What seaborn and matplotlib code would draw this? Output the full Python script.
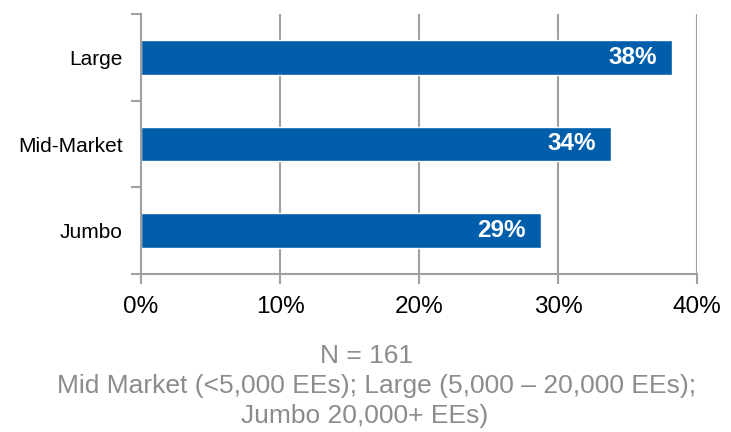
import pandas as pd
import numpy as np
import matplotlib.pyplot as plt
import seaborn as sns

sns.set_theme(style="white")
plt.rcParams['font.family'] = ['Liberation Sans', 'DejaVu Sans']

segments = ['Large', 'Mid-Market', 'Jumbo']
shares = [38, 34, 29]
bar_ends = [38.2, 33.8, 28.8]
footnote = ['N = 161',
            'Mid Market (<5,000 EEs); Large (5,000 \u2013 20,000 EEs);',
            'Jumbo 20,000+ EEs)']

df = pd.DataFrame({'segment': segments, 'share': bar_ends, 'label': shares})

fig = plt.figure(figsize=(7.31, 4.32), dpi=100)
ax = fig.add_axes([141 / 731, 1 - 274 / 432, 556 / 731, 260 / 432])

sns.barplot(data=df, y='segment', x='share', orient='h', color='#005EAB',
            saturation=1, width=0.4, ax=ax)

for i, (v, lab) in enumerate(zip(df['share'], df['label'])):
    ax.text(v - 1.1, i, f"{lab}%", ha='right', va='center', color='white',
            fontsize=17.5, fontweight='bold')

ax.set_xlim(0, 40)
ax.set_ylim(2.5, -0.5)
ax.set_xticks([0, 10, 20, 30, 40])
ax.set_xticklabels([f"{t}%" for t in [0, 10, 20, 30, 40]], fontsize=17.5, color='black')
ax.set_yticks(range(len(segments)))
ax.set_yticklabels(segments, fontsize=15, color='black')
ax.set_yticks([-0.5, 0.5, 1.5, 2.5], minor=True)
ax.tick_params(axis='y', which='major', length=0, pad=13)
ax.tick_params(axis='y', which='minor', length=7, width=1.5, color='#a0a0a0', direction='out', left=True)
ax.tick_params(axis='x', which='major', length=7, width=1.5, color='#a0a0a0', direction='out', bottom=True, pad=9)
ax.set_xlabel('')
ax.set_ylabel('')

for x in [10, 20, 30, 40]:
    ax.axvline(x, color='#a0a0a0', lw=1.5, zorder=0)

for s in ['top', 'right']:
    ax.spines[s].set_visible(False)
for s in ['left', 'bottom']:
    ax.spines[s].set_color('#a0a0a0')
    ax.spines[s].set_linewidth(1.5)

for xc, y, t in zip([366, 377, 365], [356, 386, 416], footnote):
    fig.text(xc / 731, 1 - y / 432, t, ha='center', va='center',
             color='#8c8c8c', fontsize=19)

fig.savefig('out.png', dpi=100)
